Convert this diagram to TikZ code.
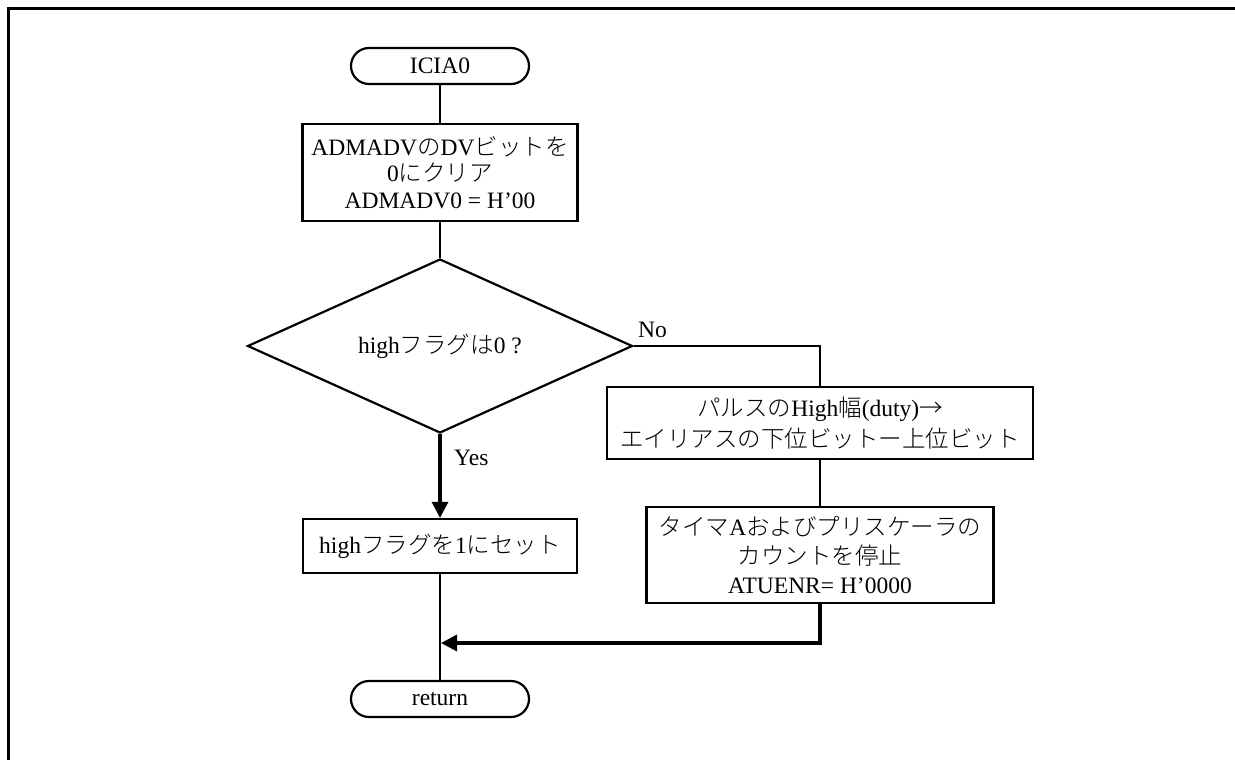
\documentclass[tikz,border=0pt]{standalone}
\usepackage{fontspec}
\setmainfont{Liberation Serif}
\newfontfamily\jpfont{Noto Sans CJK JP Light}
\newcommand\J[1]{{\jpfont #1}}
\usetikzlibrary{shapes.geometric,arrows.meta}

\begin{document}
\begin{tikzpicture}[x=1pt,y=-1pt,
  every node/.style={font=\fontsize{23.5}{26.5}\selectfont},
  base/.style={draw, line width=2.2pt, inner sep=0pt, align=center},
  procbox/.style={base, rectangle},
  term/.style={base, rectangle, rounded corners=18pt, minimum width=178pt, minimum height=36pt},
  decision/.style={base, diamond, shape aspect=2.2, minimum width=385pt, minimum height=174pt},
  lbl/.style={anchor=base west, inner sep=0pt},
  link/.style={line width=2pt},
  flow/.style={line width=3.2pt, -{Triangle[length=16pt,width=16pt]}},
]
\useasboundingbox (0,0) rectangle (1235,760);

% outer frame (top and left edges)
\draw[line width=2.6pt] (1235,8.5) -- (8.5,8.5) -- (8.5,760);

% nodes
\node[term] (start) at (440,66) {ICIA0};
\node[procbox, minimum width=275pt, minimum height=97pt] (clr) at (440,172.5)
  {ADMADV\J{の}DV\J{ビットを}\\0\J{にクリア}\\ADMADV0 = H’00};
\node[decision] (chk) at (440,346) {high\J{フラグは}0 ?};
\node[procbox, minimum width=426pt, minimum height=72pt,
      font=\fontsize{23.5}{31}\selectfont] (duty) at (820,423)
  {\J{パルスの}High\J{幅}(duty)\J{→}\\\J{エイリアスの下位ビットー上位ビット}};
\node[procbox, minimum width=347pt, minimum height=96pt,
      font=\fontsize{23.5}{29}\selectfont] (stop) at (820,555)
  {\J{タイマ}A\J{およびプリスケーラの}\\\J{カウントを停止}\\ATUENR= H’0000};
\node[procbox, minimum width=274pt, minimum height=54pt] (set) at (440,546)
  {high\J{フラグを}1\J{にセット}};
\node[term] (ret) at (440,699) {return};

\node[lbl] (nolab) at (638,337) {No};
\node[lbl] (yeslab) at (454,465) {Yes};

\coordinate (merge) at (441,643);

% connectors
\draw[link] (start) -- (clr);
\draw[link] (clr) -- (chk);
\draw[link] (chk.east) -| (duty.north);
\draw[link] (duty) -- (stop);
\draw[flow] (chk.south) -- (set.north);
\draw[link] (set) -- (ret);
\draw[flow] (stop.south) |- (merge);
\end{tikzpicture}
\end{document}
